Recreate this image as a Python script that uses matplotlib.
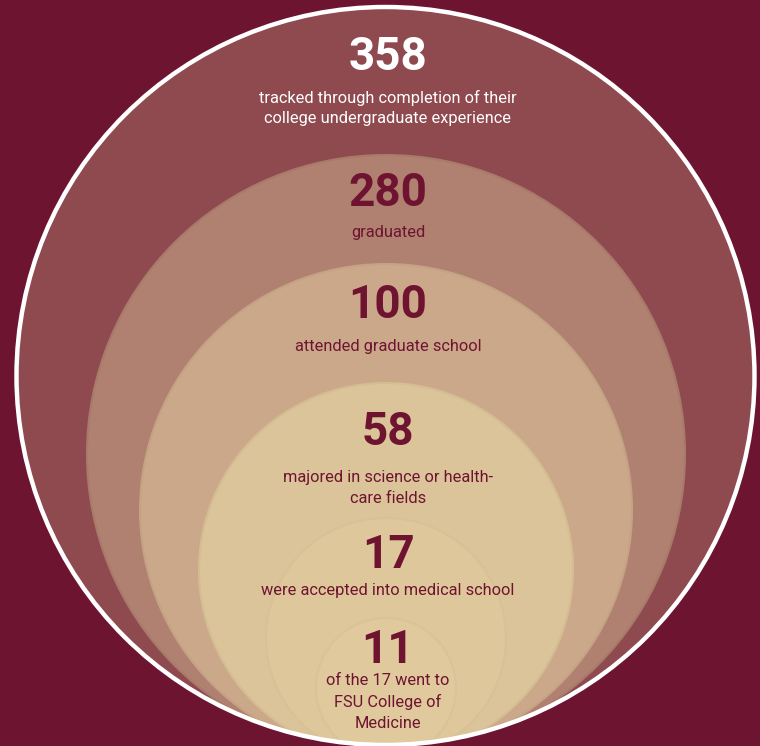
import matplotlib
matplotlib.use("Agg")
import matplotlib.pyplot as plt
from matplotlib.patches import Circle

# Data
values = ["358", "280", "100", "58", "17", "11"]
labels = [
    "tracked through completion of their\ncollege undergraduate experience",
    "graduated",
    "attended graduate school",
    "majored in science or health-\ncare fields",
    "were accepted into medical school",
    "of the 17 went to\nFSU College of\nMedicine",
]

# Layout (pixel space)
W, H = 760, 746
circ_cx = [385.5, 386, 386, 386, 386, 386]
circ_cy = [376, 454, 510, 570, 638, 688]
circ_r = [369, 299, 246, 187, 120, 70]
fills = ["#8F4A50", "#B08070", "#CBA88A", "#DBC499", "#DEC79B", "#E0C99D"]
edges = ["white", "#A87A6A", "#C4A284", "#D4BD92", "#D8C195", "#DAC397"]
num_y = [57, 193, 305, 432, 555, 650]
lab_y = [108, 233, 346, 488, 590, 702]
num_col = ["white", "#6E1430", "#6E1430", "#6E1430", "#6E1430", "#6E1430"]
bg = "#6D1431"
font = ["Roboto", "DejaVu Sans"]

fig = plt.figure(figsize=(7.6, 7.46), dpi=100, facecolor=bg)
ax = fig.add_axes([0, 0, 1, 1])
ax.set_xlim(0, W)
ax.set_ylim(H, 0)
ax.set_aspect("equal")
ax.axis("off")
ax.set_facecolor(bg)

outer = Circle((circ_cx[0], circ_cy[0]), circ_r[0], facecolor=fills[0],
               edgecolor="none", zorder=1)
ax.add_patch(outer)
for i in range(1, len(values)):
    c = Circle((circ_cx[i], circ_cy[i]), circ_r[i], facecolor=fills[i],
               edgecolor=edges[i], linewidth=1.5, zorder=1 + i)
    ax.add_patch(c)
    c.set_clip_path(outer)
ring = Circle((circ_cx[0], circ_cy[0]), circ_r[0], facecolor="none",
              edgecolor="white", linewidth=3.2, zorder=20)
ax.add_patch(ring)

for i, (v, lab) in enumerate(zip(values, labels)):
    ax.text(388, num_y[i], v, ha="center", va="center", fontsize=33,
            fontweight="bold", color=num_col[i], family=font, zorder=30)
    ax.text(388, lab_y[i], lab, ha="center", va="center", fontsize=11.8,
            color=num_col[i], family=font, linespacing=1.45, zorder=30)

fig.savefig("out.png", dpi=100, facecolor=bg)
